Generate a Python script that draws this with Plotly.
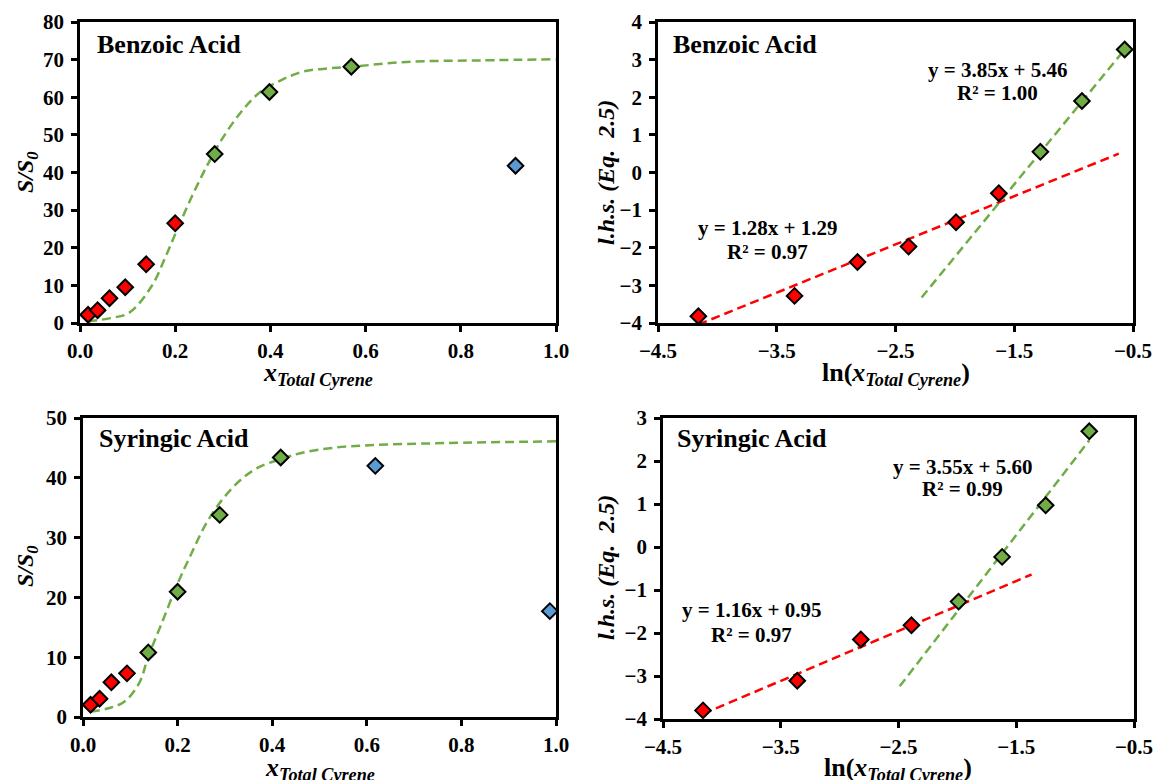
import plotly.graph_objects as go

W, H = 1153, 780

# ---------------- Data ----------------
# Benzoic acid, S/S0 vs x
ba_red_x = [0.017, 0.037, 0.062, 0.095, 0.139, 0.200]
ba_red_y = [2.2, 3.4, 6.6, 9.5, 15.6, 26.5]
ba_green_x = [0.283, 0.398, 0.570]
ba_green_y = [44.9, 61.4, 68.1]
ba_blue_x = [0.915]
ba_blue_y = [41.8]
ba_curve_x = [0.017, 0.064, 0.103, 0.150, 0.180, 0.204, 0.235, 0.266, 0.297, 0.336,
              0.375, 0.422, 0.468, 0.515, 0.570, 0.686, 0.842, 1.000]
ba_curve_y = [0.4, 1.3, 2.7, 9.7, 17.7, 24.8, 33.6, 41.6, 48.6, 55.7,
              61.0, 64.5, 66.8, 67.6, 68.1, 69.4, 69.8, 70.1]

# Benzoic acid, l.h.s. vs ln(x)
ba_ln_red_x = [-4.16, -3.35, -2.82, -2.39, -1.99, -1.63]
ba_ln_red_y = [-3.82, -3.28, -2.38, -1.97, -1.32, -0.55]
ba_ln_green_x = [-1.28, -0.93, -0.57]
ba_ln_green_y = [0.55, 1.90, 3.27]
ba_fit_red_x = [-4.16, -0.62]
ba_fit_red_y = [-4.04, 0.50]
ba_fit_green_x = [-2.28, -0.57]
ba_fit_green_y = [-3.32, 3.27]
ba_eq_red = ["y = 1.28x + 1.29", "R² = 0.97"]
ba_eq_green = ["y = 3.85x + 5.46", "R² = 1.00"]

# Syringic acid, S/S0 vs x
sa_red_x = [0.016, 0.035, 0.060, 0.093]
sa_red_y = [2.05, 3.05, 5.8, 7.3]
sa_green_x = [0.138, 0.200, 0.289, 0.418]
sa_green_y = [10.8, 20.95, 33.8, 43.4]
sa_blue_x = [0.618, 0.987]
sa_blue_y = [42.0, 17.7]
sa_curve_x = [0.016, 0.056, 0.088, 0.119, 0.138, 0.166, 0.200, 0.229, 0.260, 0.292,
              0.331, 0.370, 0.417, 0.464, 0.527, 0.605, 0.762, 1.000]
sa_curve_y = [0.9, 1.5, 2.6, 5.7, 10.1, 15.6, 22.3, 27.3, 32.3, 36.1,
              39.5, 41.7, 43.1, 44.2, 45.0, 45.45, 45.8, 46.1]

# Syringic acid, l.h.s. vs ln(x)
sa_ln_red_x = [-4.16, -3.36, -2.82, -2.39]
sa_ln_red_y = [-3.80, -3.11, -2.15, -1.82]
sa_ln_green_x = [-1.99, -1.62, -1.25, -0.88]
sa_ln_green_y = [-1.27, -0.23, 0.97, 2.69]
sa_fit_red_x = [-4.16, -1.37]
sa_fit_red_y = [-3.88, -0.64]
sa_fit_green_x = [-2.49, -0.88]
sa_fit_green_y = [-3.24, 2.48]
sa_eq_red = ["y = 1.16x + 0.95", "R² = 0.97"]
sa_eq_green = ["y = 3.55x + 5.60", "R² = 0.99"]

panel_titles = ["Benzoic Acid", "Benzoic Acid", "Syringic Acid", "Syringic Acid"]

# ---------------- Styling ----------------
FONT = "Liberation Serif"
RED = "#FF0000"
GREEN = "#70AD47"
BLUE = "#5B9BD5"

def px_x(p):
    return p / W

def px_y(p):
    return 1 - p / H

fig = go.Figure()

def markers(x, y, color, xa, ya):
    fig.add_trace(go.Scatter(
        x=x, y=y, mode="markers", xaxis=xa, yaxis=ya, cliponaxis=False,
        marker=dict(symbol="diamond", size=12, color=color,
                    line=dict(color="black", width=2)),
        showlegend=False, hoverinfo="x+y"))

def dline(x, y, color, xa, ya, spline=False):
    fig.add_trace(go.Scatter(
        x=x, y=y, mode="lines", xaxis=xa, yaxis=ya,
        line=dict(color=color, width=2.5, dash="9px,5px",
                  shape="spline" if spline else "linear"),
        showlegend=False, hoverinfo="skip"))

# Panel 1
dline(ba_curve_x, ba_curve_y, GREEN, "x", "y", spline=True)
markers(ba_red_x, ba_red_y, RED, "x", "y")
markers(ba_green_x, ba_green_y, GREEN, "x", "y")
markers(ba_blue_x, ba_blue_y, BLUE, "x", "y")
# Panel 2
dline(ba_fit_red_x, ba_fit_red_y, RED, "x2", "y2")
dline(ba_fit_green_x, ba_fit_green_y, GREEN, "x2", "y2")
markers(ba_ln_red_x, ba_ln_red_y, RED, "x2", "y2")
markers(ba_ln_green_x, ba_ln_green_y, GREEN, "x2", "y2")
# Panel 3
dline(sa_curve_x, sa_curve_y, GREEN, "x3", "y3", spline=True)
markers(sa_red_x, sa_red_y, RED, "x3", "y3")
markers(sa_green_x, sa_green_y, GREEN, "x3", "y3")
markers(sa_blue_x, sa_blue_y, BLUE, "x3", "y3")
# Panel 4
dline(sa_fit_red_x, sa_fit_red_y, RED, "x4", "y4")
dline(sa_fit_green_x, sa_fit_green_y, GREEN, "x4", "y4")
markers(sa_ln_red_x, sa_ln_red_y, RED, "x4", "y4")
markers(sa_ln_green_x, sa_ln_green_y, GREEN, "x4", "y4")

tickfont = dict(family=FONT, size=21, color="black", weight="bold")

def axis(domain, rng, dtick, fmt=None, anchor=None, standoff=6):
    d = dict(domain=domain, range=rng, dtick=dtick, tick0=rng[0],
             showgrid=False, zeroline=False, showline=True, linecolor="black",
             linewidth=2.5, mirror=True, ticks="outside", ticklen=6,
             tickwidth=2.5, tickcolor="black", tickfont=tickfont,
             ticklabelstandoff=standoff, ticklabeloverflow="allow",
             anchor=anchor, fixedrange=True, automargin=False)
    if fmt:
        d["tickformat"] = fmt
    return d

panels = {
    1: dict(x=(80, 556), y=(22, 323), xr=[0, 1], yr=[0, 80], xd=0.2, yd=10, fmt=".1f"),
    2: dict(x=(658, 1133), y=(22, 323), xr=[-4.5, -0.5], yr=[-4, 4], xd=1, yd=1, fmt=".1f"),
    3: dict(x=(83, 556), y=(418, 717), xr=[0, 1], yr=[0, 50], xd=0.2, yd=10, fmt=".1f"),
    4: dict(x=(663, 1134), y=(418, 719), xr=[-4.5, -0.5], yr=[-4, 3], xd=1, yd=1, fmt=".1f"),
}

layout_axes = {}
for i, p in panels.items():
    sx = "" if i == 1 else str(i)
    xdom = [px_x(p["x"][0]), px_x(p["x"][1])]
    ydom = [px_y(p["y"][1]), px_y(p["y"][0])]
    layout_axes["xaxis" + sx] = axis(xdom, p["xr"], p["xd"], p["fmt"],
                                     anchor="y" + sx, standoff=1)
    layout_axes["yaxis" + sx] = axis(ydom, p["yr"], p["yd"], None,
                                     anchor="x" + sx, standoff=3)

annotations = []

def ann(text, x, y, size, xref="paper", yref="paper", xanchor="center",
        yanchor="middle", angle=0):
    annotations.append(dict(text=text, x=x, y=y, xref=xref, yref=yref,
                            xanchor=xanchor, yanchor=yanchor, showarrow=False,
                            textangle=angle,
                            font=dict(family=FONT, size=size, color="black")))

# Panel titles
ann("<b>" + panel_titles[0] + "</b>", px_x(95), px_y(44), 26, xanchor="left")
ann("<b>" + panel_titles[1] + "</b>", px_x(671), px_y(44), 26, xanchor="left")
ann("<b>" + panel_titles[2] + "</b>", px_x(97), px_y(438), 26, xanchor="left")
ann("<b>" + panel_titles[3] + "</b>", px_x(675), px_y(438), 26, xanchor="left")

# Axis titles
ytitle_s = "<b><i>S/S<sub>0</sub></i></b>"
ytitle_l = "<b><i>l.h.s. (Eq.  2.5)</i></b>"
xtitle_x = "<b><i>x<sub>Total Cyrene</sub></i></b>"
xtitle_ln = "<b>ln(<i>x<sub>Total Cyrene</sub></i>)</b>"
ann(ytitle_s, px_x(27), px_y(172), 24, angle=-90)
ann(ytitle_l, px_x(606), px_y(173), 24, angle=-90)
ann(ytitle_s, px_x(27), px_y(566), 24, angle=-90)
ann(ytitle_l, px_x(606), px_y(568), 24, angle=-90)
ann(xtitle_x, px_x(318), px_y(374), 26)
ann(xtitle_ln, px_x(896), px_y(374), 26)
ann(xtitle_x, px_x(320), px_y(769), 26)
ann(xtitle_ln, px_x(898), px_y(769), 26)

# Equations (data coordinates)
def eq(lines, x, y1, y2, xr, yr):
    ann("<b>" + lines[0] + "</b>", x, y1, 21, xref=xr, yref=yr)
    ann("<b>" + lines[1] + "</b>", x, y2, 21, xref=xr, yref=yr)

eq(ba_eq_green, -1.64, 2.72, 2.10, "x2", "y2")
eq(ba_eq_red, -3.58, -1.48, -2.10, "x2", "y2")
eq(sa_eq_green, -1.96, 1.87, 1.34, "x4", "y4")
eq(sa_eq_red, -3.75, -1.47, -2.05, "x4", "y4")

fig.update_layout(
    width=W, height=H, autosize=False,
    margin=dict(l=0, r=0, t=0, b=0, pad=0, autoexpand=False),
    paper_bgcolor="white", plot_bgcolor="white",
    font=dict(family=FONT, color="black"),
    showlegend=False,
    annotations=annotations,
    **layout_axes,
)

fig.write_html("out.html", config={"displayModeBar": False},
               post_script="document.body.style.margin='0';")
